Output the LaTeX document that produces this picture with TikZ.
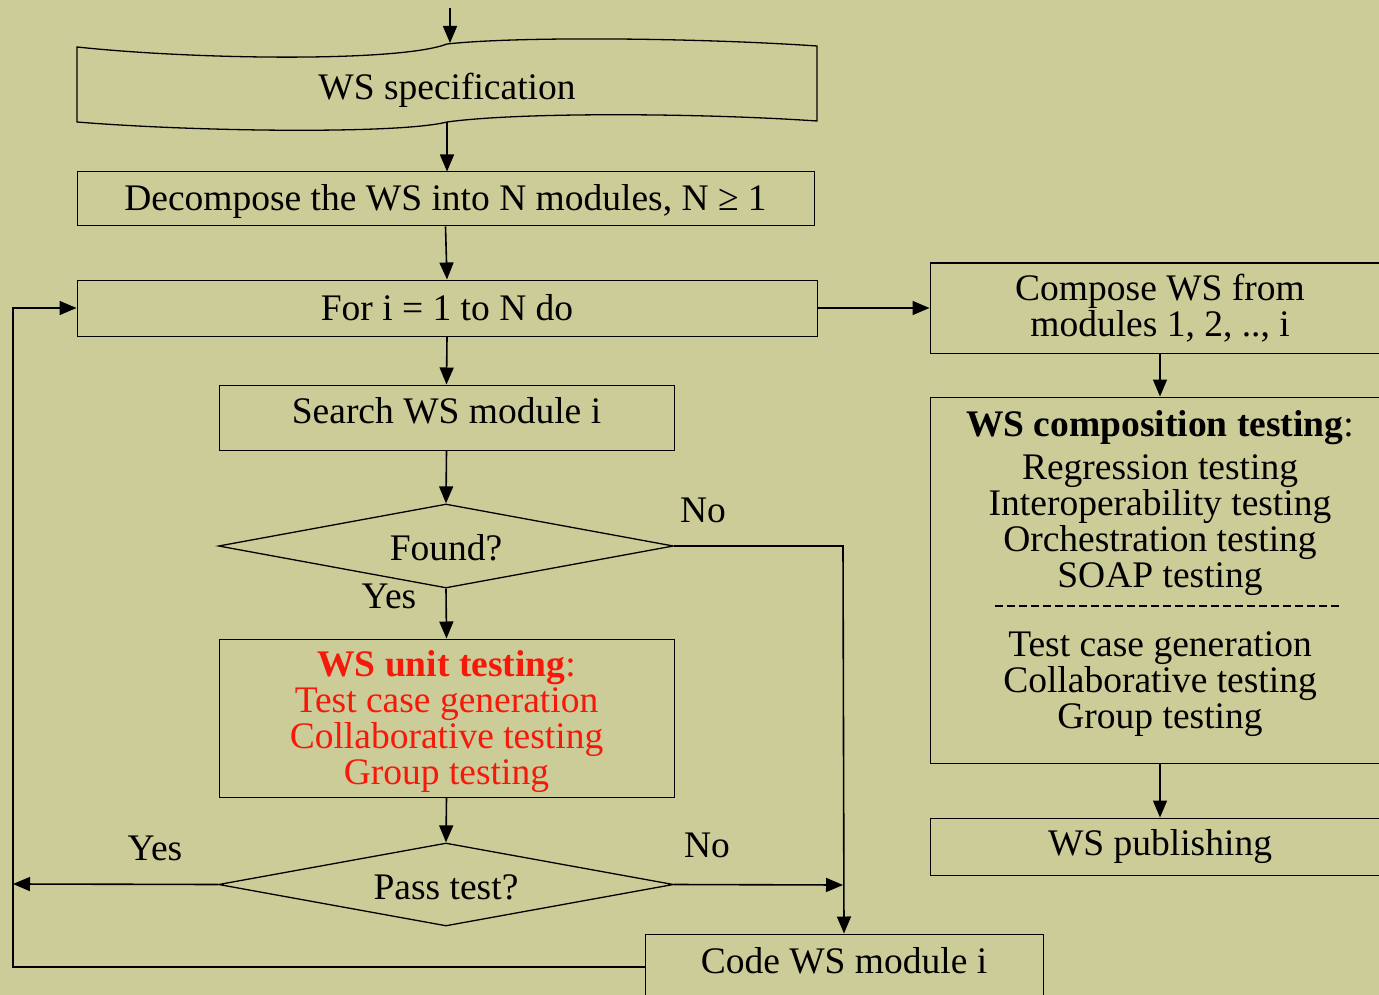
\documentclass[tikz,border=0pt]{standalone}
\usepackage{fontspec}
\setmainfont{Liberation Serif}
\usetikzlibrary{shapes.geometric, arrows.meta, positioning, calc}
\definecolor{paper}{RGB}{204,204,153}
\definecolor{unitred}{RGB}{245,25,10}
\tikzset{
  block/.style={rectangle,draw=black,line width=1pt,inner sep=0pt,align=center},
  decision/.style={diamond,draw=black,line width=1.3pt,inner sep=0pt,aspect=5.4},
  flow/.style={line width=1.6pt,-{Triangle[length=17pt,width=14pt]}},
  separator/.style={line width=1.8pt,dash pattern=on 8pt off 4pt},
  answer/.style={inner sep=0pt},
}
\begin{document}
\begin{tikzpicture}[x=1pt,y=-1pt,font=\fontsize{37.5}{36}\selectfont]
	    \fill[paper] (0,0) rectangle (1379,995);
	    \clip (0,0) rectangle (1379,995);
	    % WS specification (document shape)
	    \draw[line width=1.3pt] (77,47) .. controls (200,60) and (400,62) .. (447,44)
	      .. controls (520,36) and (700,38) .. (817,46) -- (817,121)
	      .. controls (700,113) and (520,112) .. (447,122)
	      .. controls (400,134) and (200,132) .. (77,122) -- cycle;
	    \node[answer] (spec) at (447,90) {WS specification};
	    \coordinate (start) at (450,8);
	    \coordinate (spectop) at (450,43);
	    \coordinate (specbot) at (447,122);
	    % left column
	    \node[block,minimum width=737,minimum height=54,text height=31pt] (decomp) at (445.5,199) {Decompose the WS into N modules, N ≥ 1};
	    \node[block,minimum width=740,minimum height=56] (loop) at (447,308) {For i = 1 to N do};
	    \node[block,minimum width=455,minimum height=65,text depth=14pt] (search) at (446.5,417.5) {Search WS module i};
	    \node[decision,minimum width=455,minimum height=84,text height=30pt] (found) at (446,546) {Found?};
	    \node[block,minimum width=455,minimum height=158] (unit) at (446.5,718) {};
	    \node[answer,align=center,text=unitred] (unittext) at (446.5,722)
	      {\textbf{WS unit testing}:\\Test case generation\\Collaborative testing\\Group testing};
	    \node[decision,minimum width=455,minimum height=83,text height=31pt] (pass) at (446,884.5) {Pass test?};
	    \node[block,minimum width=398,minimum height=70,text depth=18pt] (code) at (844,969) {Code WS module i};
	    % right column
	    \node[block,minimum width=460,minimum height=90] (compose) at (1160,308) {Compose WS from\\modules 1, 2, .., i};
	    \node[block,minimum width=460,minimum height=366] (comptest) at (1160,580) {};
	    \node[answer,align=center,anchor=north] (comptop) at (1160,410)
	      {\textbf{WS composition testing}:\\[7pt]Regression testing\\Interoperability testing\\Orchestration testing\\SOAP testing};
	    \coordinate (dashleft) at (995,606);
	    \coordinate (dashright) at (1341,606);
	    \draw[separator] (dashleft) -- (dashright);
	    \node[answer,align=center] (compbot) at (1160,684) {Test case generation\\Collaborative testing\\Group testing};
	    \node[block,minimum width=460,minimum height=57] (publish) at (1160,846.5) {WS publishing};
	    % labels
	    \node[answer] (foundno) at (703,510) {No};
	    \node[answer] (foundyes) at (389,596) {Yes};
	    \node[answer] (passyes) at (155,848) {Yes};
	    \node[answer] (passno) at (707,845) {No};
	    % connectors
	    \coordinate (nocorner) at (843,546);
	    \coordinate (nojoin) at (843,885);
	    \coordinate (yesend) at (13,884);
	    \coordinate (backcorner) at (13,967);
	    \draw[flow] (start) -- (spectop);
	    \draw[flow] (specbot) -- (decomp.north -| specbot);
	    \draw[flow] (decomp.south) -- (loop.north);
	    \draw[flow] (loop.south) -- (search.north);
	    \draw[flow] (search.south) -- (found.north);
	    \draw[flow] (found.south) -- (unit.north);
	    \draw[flow] (unit.south) -- (pass.north);
	    \draw[flow] (found.east) -- (nocorner) -- (code.north);
	    \draw[flow] (pass.east) -- (nojoin);
	    \draw[flow] (pass.west) -- (yesend);
	    \draw[flow] (code.west |- backcorner) -- (backcorner) -- (yesend |- loop.west) -- (loop.west);
	    \draw[flow] (loop.east) -- (compose.west);
	    \draw[flow] (compose.south) -- (comptest.north);
	    \draw[flow] (comptest.south) -- (publish.north);
	\end{tikzpicture}
\end{document}
